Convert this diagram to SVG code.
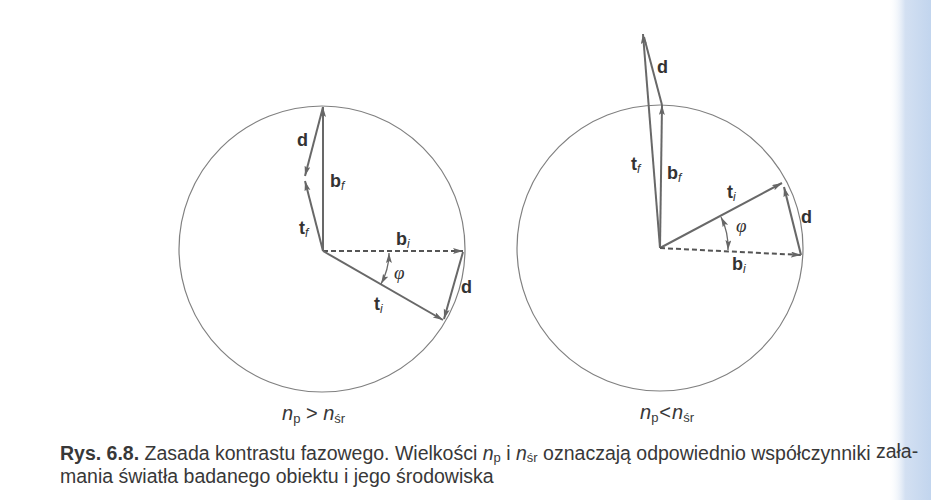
<svg xmlns="http://www.w3.org/2000/svg" width="931" height="500" viewBox="0 0 931 500">
<defs>
<marker id="ah" markerUnits="userSpaceOnUse" markerWidth="11" markerHeight="8" refX="10" refY="3" orient="auto-start-reverse">
<path d="M0,0 L10,3 L0,6 L2,3 z" fill="#666"/>
</marker>
<linearGradient id="blue" x1="0" y1="0" x2="1" y2="0">
<stop offset="0" stop-color="#ffffff" stop-opacity="0"/>
<stop offset="0.4" stop-color="#d3e0f2"/>
<stop offset="1" stop-color="#c2d5ee"/>
</linearGradient>
</defs>
<style>
.circ{fill:none;stroke:#808080;stroke-width:1.2}
.vec{fill:none;stroke:#686868;stroke-width:2;marker-end:url(#ah)}
.dash{fill:none;stroke:#555;stroke-width:2;stroke-dasharray:5,3;marker-end:url(#ah)}
.arc{fill:none;stroke:#6a6a6a;stroke-width:1.3;marker-start:url(#ah);marker-end:url(#ah)}
.lbl{font-family:"Liberation Sans",Arial,sans-serif;font-weight:bold;font-size:18px;fill:#333}
.sub{font-family:"Liberation Sans",Arial,sans-serif;font-style:italic;font-weight:normal;font-size:12px}
.phi{font-family:"Liberation Serif","Times New Roman",serif;font-style:italic;font-size:19px;fill:#333}
.cap{font-family:"Liberation Sans",Arial,sans-serif;font-size:19.5px;fill:#383838}
.nlab{font-family:"Liberation Sans",Arial,sans-serif;font-size:20px;fill:#383838}
</style>
<rect width="931" height="500" fill="#ffffff"/>
<rect x="888" y="0" width="43" height="500" fill="url(#blue)"/>

<g id="left-circle"><circle class="circ" cx="322" cy="249" r="143"/></g>
<g id="right-circle"><circle class="circ" cx="660" cy="248" r="143"/></g>

<g id="connectors">
<line class="vec" x1="323" y1="251" x2="323" y2="107"/>
<line class="dash" x1="323" y1="251" x2="463" y2="251"/>
<line class="vec" x1="323" y1="251" x2="443" y2="320"/>
<line class="vec" x1="463" y1="252" x2="444" y2="319"/>
<line class="vec" x1="323" y1="251" x2="305" y2="181"/>
<line class="vec" x1="323" y1="107" x2="305" y2="176"/>
<path class="arc" d="M389,253 A66,66 0 0 1 381,284"/>
<line class="vec" x1="660" y1="248" x2="662" y2="105"/>
<line class="vec" x1="660" y1="248" x2="643" y2="34"/>
<line fill="none" stroke="#686868" stroke-width="2" x1="662" y1="105" x2="644" y2="37"/>
<line class="vec" x1="660" y1="248" x2="782" y2="183"/>
<line class="dash" x1="660" y1="248" x2="801" y2="255"/>
<line class="vec" x1="801" y1="255" x2="784" y2="187"/>
<path class="arc" d="M728,250 A68,68 0 0 0 721,217"/>
</g>

<g id="left-labels">
<text class="lbl" x="297" y="146">d</text>
<text class="lbl" x="330" y="187">b<tspan class="sub" dy="3">f</tspan></text>
<text class="lbl" x="299" y="234">t<tspan class="sub" dy="3">f</tspan></text>
<text class="lbl" x="396" y="245">b<tspan class="sub" dy="3">i</tspan></text>
<text class="phi" x="394" y="279">φ</text>
<text class="lbl" x="374" y="310">t<tspan class="sub" dy="3">i</tspan></text>
<text class="lbl" x="461" y="293">d</text>
</g>
<g id="right-labels">
<text class="lbl" x="657" y="73">d</text>
<text class="lbl" x="631" y="170">t<tspan class="sub" dy="3">f</tspan></text>
<text class="lbl" x="667" y="179">b<tspan class="sub" dy="3">f</tspan></text>
<text class="lbl" x="727" y="198">t<tspan class="sub" dy="3">i</tspan></text>
<text class="phi" x="736" y="232">φ</text>
<text class="lbl" x="801" y="223">d</text>
<text class="lbl" x="732" y="270">b<tspan class="sub" dy="3">i</tspan></text>
</g>

<g id="cond-left"><text class="nlab" x="282" y="420"><tspan font-style="italic">n</tspan><tspan font-size="13" dy="3">p</tspan><tspan dy="-3"> &gt; </tspan><tspan font-style="italic">n</tspan><tspan font-size="13" dy="3">śr</tspan></text></g>
<g id="cond-right"><text class="nlab" x="640" y="419"><tspan font-style="italic">n</tspan><tspan font-size="13" dy="3">p</tspan><tspan dy="-3" dx="1">&lt;</tspan><tspan font-style="italic" dx="1">n</tspan><tspan font-size="13" dy="3">śr</tspan></text></g>

<g id="caption">
<text class="cap" x="60" y="460"><tspan font-weight="bold">Rys. 6.8.</tspan> Zasada kontrastu fazowego. Wielkości <tspan font-style="italic">n</tspan><tspan font-size="13" dy="2">p</tspan><tspan dy="-2"> i </tspan><tspan font-style="italic">n</tspan><tspan font-size="13" dy="2">śr</tspan><tspan dy="-2"> oznaczają odpowiednio współczynniki </tspan><tspan dy="-2">zała-</tspan></text>
<text class="cap" x="60" y="483">mania światła badanego obiektu i jego środowiska</text>
</g>
</svg>
